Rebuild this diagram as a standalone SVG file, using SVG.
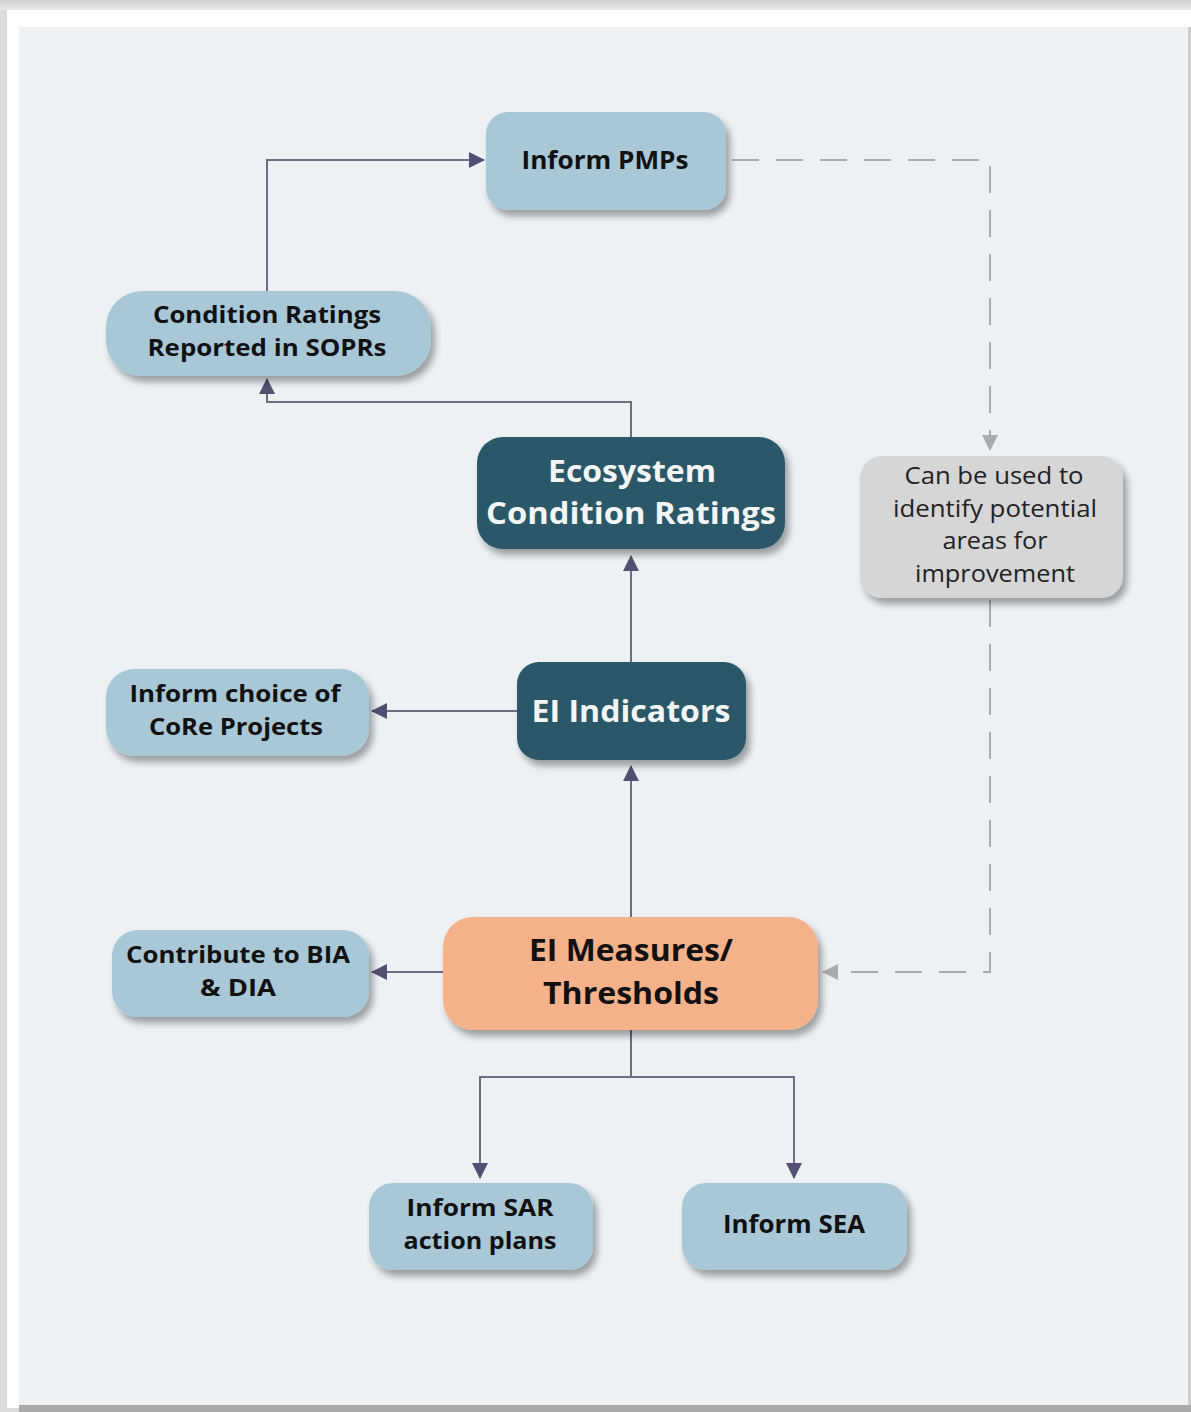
<svg xmlns="http://www.w3.org/2000/svg" width="1191" height="1412" viewBox="0 0 1191 1412">
<defs>
<style>
.light{fill:#a9c8d7}
.dark{fill:#2b5868}
.salmon{fill:#f5b18a}
.grey{fill:#d6d6d6}
.tb{font-family:"Open Sans","Noto Sans",sans-serif;font-weight:700;text-anchor:middle}
.tl{font-size:25px;fill:#111}
.t2{font-size:23px;fill:#111}
.td{font-size:31px;fill:#f4f6f6}
.ts{font-size:31px;fill:#111}
.tg{font-family:"Open Sans","Noto Sans",sans-serif;font-weight:400;font-size:23px;fill:#222;text-anchor:middle}
.conn{fill:none;stroke:#6e6d82;stroke-width:2}
.dash{fill:none;stroke:#ababab;stroke-width:2;stroke-dasharray:27 17}
</style>
<filter id="sh" x="-20%" y="-20%" width="150%" height="150%">
<feDropShadow dx="4" dy="6" stdDeviation="3.5" flood-color="#000" flood-opacity="0.35"/>
</filter>
<marker id="ar" markerUnits="userSpaceOnUse" markerWidth="16" markerHeight="16" viewBox="0 0 16 16" refX="15" refY="8" orient="auto">
<path d="M0,0 L16,8 L0,16 Z" fill="#534f73"/>
</marker>
<marker id="arg" markerUnits="userSpaceOnUse" markerWidth="16" markerHeight="16" viewBox="0 0 16 16" refX="15" refY="8" orient="auto">
<path d="M0,0 L16,8 L0,16 Z" fill="#ababab"/>
</marker>
<linearGradient id="topg" x1="0" y1="0" x2="0" y2="1">
<stop offset="0" stop-color="#cfcfcf"/>
<stop offset="1" stop-color="#e8e8e8"/>
</linearGradient>
</defs>

<g id="frame">
<rect x="0" y="0" width="1191" height="1412" fill="#dcdcdc"/>
<rect x="0" y="0" width="1191" height="10" fill="url(#topg)"/>
<rect x="7" y="10" width="1184" height="1398" fill="#ffffff"/>
<rect x="19" y="27" width="1169" height="1378" fill="#edf1f4"/>
<rect x="1188" y="27" width="3" height="1385" fill="#cfcfcf"/>
<rect x="19" y="1405" width="1172" height="7" fill="#a9a9a9"/>
</g>

<g id="connectors">
<path class="conn" d="M267,291 V160 H484" marker-end="url(#ar)"/>
<path class="conn" d="M631,437 V402 H267 V379" marker-end="url(#ar)"/>
<path class="conn" d="M631,662 V556" marker-end="url(#ar)"/>
<path class="conn" d="M631,917 V766" marker-end="url(#ar)"/>
<path class="conn" d="M517,711 H372" marker-end="url(#ar)"/>
<path class="conn" d="M443,972 H372" marker-end="url(#ar)"/>
<path class="conn" d="M631,1030 V1077 H480 V1178" marker-end="url(#ar)"/>
<path class="conn" d="M631,1077 H794 V1178" marker-end="url(#ar)"/>
<path class="dash" d="M732,160 H990 V450" marker-end="url(#arg)"/>
<path class="dash" d="M990,600 V972 H823" marker-end="url(#arg)"/>
</g>

<g id="node-pmps">
<rect class="light" x="486" y="112" width="240" height="98" rx="22" filter="url(#sh)"/>
<text class="tb tl" x="605" y="169" textLength="167" lengthAdjust="spacingAndGlyphs">Inform PMPs</text>
</g>

<g id="node-sopr">
<rect class="light" x="106" y="291" width="325" height="85" rx="36" filter="url(#sh)"/>
<text class="tb t2" x="267" y="323" textLength="228" lengthAdjust="spacingAndGlyphs">Condition Ratings</text>
<text class="tb t2" x="267" y="356" textLength="239" lengthAdjust="spacingAndGlyphs">Reported in SOPRs</text>
</g>

<g id="node-ecr">
<rect class="dark" x="477" y="437" width="308" height="112" rx="26" filter="url(#sh)"/>
<text class="tb td" x="632" y="482" textLength="168" lengthAdjust="spacingAndGlyphs">Ecosystem</text>
<text class="tb td" x="631" y="524" textLength="290" lengthAdjust="spacingAndGlyphs">Condition Ratings</text>
</g>

<g id="node-improve">
<rect class="grey" x="860" y="456" width="263" height="142" rx="22" filter="url(#sh)"/>
<text class="tg" x="994" y="484" textLength="179" lengthAdjust="spacingAndGlyphs">Can be used to</text>
<text class="tg" x="995" y="517" textLength="204" lengthAdjust="spacingAndGlyphs">identify potential</text>
<text class="tg" x="995" y="549" textLength="105" lengthAdjust="spacingAndGlyphs">areas for</text>
<text class="tg" x="995" y="582" textLength="160" lengthAdjust="spacingAndGlyphs">improvement</text>
</g>

<g id="node-core">
<rect class="light" x="106" y="669" width="263" height="87" rx="28" filter="url(#sh)"/>
<text class="tb t2" x="235" y="702" textLength="211" lengthAdjust="spacingAndGlyphs">Inform choice of</text>
<text class="tb t2" x="236" y="735" textLength="174" lengthAdjust="spacingAndGlyphs">CoRe Projects</text>
</g>

<g id="node-indicators">
<rect class="dark" x="517" y="662" width="229" height="98" rx="22" filter="url(#sh)"/>
<text class="tb td" x="631" y="722" textLength="199" lengthAdjust="spacingAndGlyphs">EI Indicators</text>
</g>

<g id="node-bia">
<rect class="light" x="112" y="930" width="257" height="87" rx="26" filter="url(#sh)"/>
<text class="tb t2" x="238" y="963" textLength="224" lengthAdjust="spacingAndGlyphs">Contribute to BIA</text>
<text class="tb t2" x="238" y="996" textLength="76" lengthAdjust="spacingAndGlyphs">&amp; DIA</text>
</g>

<g id="node-measures">
<rect class="salmon" x="443" y="917" width="375" height="113" rx="30" filter="url(#sh)"/>
<text class="tb ts" x="631" y="961" textLength="204" lengthAdjust="spacingAndGlyphs">EI Measures/</text>
<text class="tb ts" x="631" y="1004" textLength="176" lengthAdjust="spacingAndGlyphs">Thresholds</text>
</g>

<g id="node-sar">
<rect class="light" x="369" y="1183" width="224" height="87" rx="24" filter="url(#sh)"/>
<text class="tb t2" x="480" y="1216" textLength="147" lengthAdjust="spacingAndGlyphs">Inform SAR</text>
<text class="tb t2" x="480" y="1249" textLength="153" lengthAdjust="spacingAndGlyphs">action plans</text>
</g>

<g id="node-sea">
<rect class="light" x="682" y="1183" width="225" height="87" rx="24" filter="url(#sh)"/>
<text class="tb tl" x="794" y="1233" textLength="142" lengthAdjust="spacingAndGlyphs">Inform SEA</text>
</g>
</svg>
